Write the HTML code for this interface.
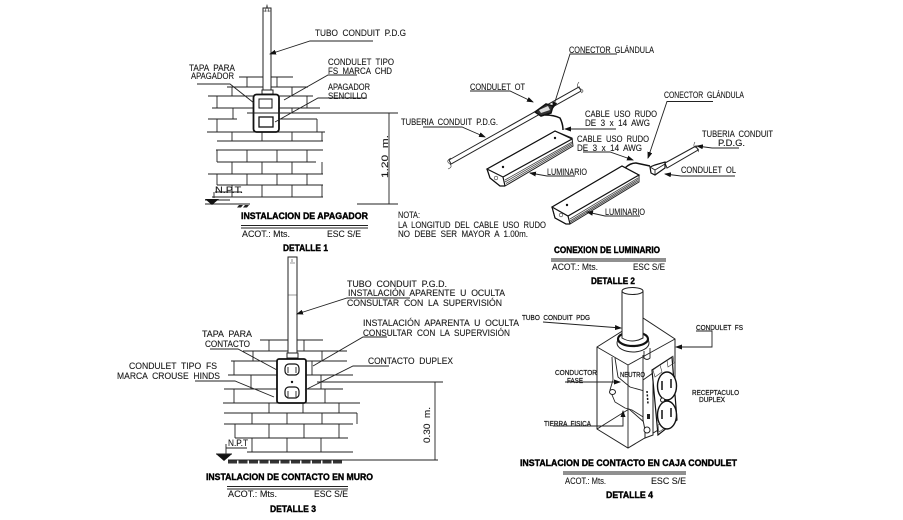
<!DOCTYPE html>
<html><head><meta charset="utf-8"><style>
html,body{margin:0;padding:0;background:#fff}
svg{display:block}
text{font-family:"Liberation Sans",sans-serif;font-size:9px;fill:#1a1a1a;stroke:#1a1a1a;stroke-width:.12;white-space:pre}
.b{font-weight:bold;fill:#000;stroke:#000;stroke-width:.4;font-size:9.500px}
.s{font-size:7.500px;stroke-width:.25}
.l{fill:none;stroke:#222;stroke-width:.9}
.t{fill:none;stroke:#333;stroke-width:.6}
.k{fill:none;stroke:#111;stroke-width:1.5}
.w{fill:#fff;stroke:#222;stroke-width:1}
</style></head><body>
<svg width="903" height="520" viewBox="0 0 903 520" xmlns="http://www.w3.org/2000/svg">
<defs><marker id="a" markerWidth="7" markerHeight="5" refX="6" refY="2.5" orient="auto" markerUnits="userSpaceOnUse"><path d="M0 0L7 2.500L0 5z" fill="#111"/></marker></defs>

<!-- DETALLE 1 bricks -->
<path class="l" d="M239 77H293M227 87H308M208 96H313M212 108H320M208 119H237M278 119H317M207 132H325M217 141H323M216 150H323M217 162H316M208 174H323M217 185H323M212 197H323
M247 77V87M277 77V87M232 87V96M292 87V96M217 96V108M307 96V108M233 108V119M292 108V113M217 119V132M317 119V132M232 132V141M262 132V141M292 132V141M322 132V141M217 150V162M247 150V162M277 150V162M307 150V162M232 162V174M262 162V174M292 162V174M322 162V174M217 174V185M247 174V185M277 174V185M307 174V185M232 185V197M262 185V197M292 185V197M322 185V197"/>
<rect class="w" x="263" y="8" width="8" height="82"/>
<path class="t" d="M265 12L267 5L269 12M263 11H271"/>
<rect class="w" x="262" y="90" width="11" height="4"/>
<rect x="253.500" y="94.500" width="25.500" height="37.500" rx="3" fill="#fff" stroke="#111" stroke-width="1.800"/>
<rect x="259" y="99" width="13" height="9" fill="none" stroke="#111"/>
<rect x="259" y="117" width="14" height="10" fill="none" stroke="#111" stroke-width="1.300"/>
<path class="l" d="M247 113H398M357 204H398M389 113V204M205 204H250M205 200H230"/>
<path d="M205 199H219L212 205z" fill="#111"/>
<path d="M239 205h4l-2 2.500h-4zM245 205h4l-2 2.500h-4z" fill="#222"/>
<path class="l" d="M215 192H242M214 192V198"/>
<text x="215" y="193" textLength="28" lengthAdjust="spacingAndGlyphs">N.P.T.</text>
<text transform="translate(388,178) rotate(-90)" textLength="43" lengthAdjust="spacingAndGlyphs" style="font-size:9.500px">1.20  m.</text>

<path class="l" d="M373 41H310L270 54" marker-end="url(#a)"/>
<path class="l" d="M357 75H328L284 100"/>
<path class="l" d="M367 98H318L275 122"/>
<path class="l" d="M197 84H230L254 103"/>
<text x="315" y="36" textLength="91" lengthAdjust="spacingAndGlyphs">TUBO  CONDUIT  P.D.G</text>
<text x="328" y="65" textLength="66" lengthAdjust="spacingAndGlyphs">CONDULET  TIPO</text>
<text x="328" y="74" textLength="64" lengthAdjust="spacingAndGlyphs">FS  MARCA  CHD</text>
<text x="328" y="90" textLength="42" lengthAdjust="spacingAndGlyphs">APAGADOR</text>
<text x="328" y="99" textLength="39" lengthAdjust="spacingAndGlyphs">SENCILLO</text>
<text x="189" y="71" textLength="46" lengthAdjust="spacingAndGlyphs">TAPA  PARA</text>
<text x="191" y="79" textLength="43" lengthAdjust="spacingAndGlyphs">APAGADOR</text>
<text class="b" x="241" y="219" textLength="127" lengthAdjust="spacingAndGlyphs">INSTALACION DE APAGADOR</text>
<path class="l" d="M241 225.500H368M241 228H368"/>
<text x="242" y="237" textLength="48" lengthAdjust="spacingAndGlyphs">ACOT.: Mts.</text>
<text x="327" y="237" textLength="34" lengthAdjust="spacingAndGlyphs">ESC S/E</text>
<text class="b" x="283" y="251" textLength="45" lengthAdjust="spacingAndGlyphs">DETALLE 1</text>

<!-- DETALLE 2 -->
<path class="w" d="M449 160L579 87L581 91L451 164z"/>
<path class="t" d="M451 158Q445 161 450 164Q453 167 448 169M579 82Q575 87 581 89Q585 91 581 93"/>
<path d="M535 112L546 104L553 106L551 113L541 116z" fill="#333" stroke="#111" stroke-width="1.500"/>
<path d="M539 110L548 106L550 110L541 113z" fill="#ddd"/>
<path class="k" d="M545 115Q554 115 560 118Q563 124 563 130" stroke-width="2"/>
<!-- luminaire 1 -->
<path class="w" d="M487 169L555 131L572 138L573 146L505 186L500 186L490 178z"/>
<path d="M487 169L555 131L572 139L503 177zM503 177L505 186M487 169L490 178L500 186L505 186" fill="none" stroke="#111" stroke-width="1.200"/>
<path d="M505 180L572 142M505 182L572 143.500M506 183.500L572 145" stroke="#444" stroke-width=".8" fill="none"/>
<circle cx="496" cy="178" r="1.800" class="t"/><circle cx="503" cy="167" r="1.200" fill="#111"/><circle cx="555" cy="138" r="1.200" fill="#111"/>
<!-- luminaire 2 -->
<path class="w" d="M552 207L622 166L639 175V182L570 224L566 224L555 218z"/>
<path d="M552 207L622 166L639 175L568 216zM568 216L570 224M552 207L555 218L566 224L570 224" fill="none" stroke="#111" stroke-width="1.200"/>
<path d="M570 219L638 178M570 221L638 179.500M570 222.500L638 181" stroke="#444" stroke-width=".8" fill="none"/>
<circle cx="561" cy="215" r="1.800" class="t"/><circle cx="567" cy="205" r="1.200" fill="#111"/>
<!-- OL -->
<path class="k" d="M625 168Q630 163 636 163L650 166" stroke-width="2"/>
<path class="w" d="M665 163L696 146L698 150L667 168z"/>
<path class="t" d="M695 142Q692 147 697 148Q700 150 698 152"/>
<path d="M650 167L655 165L665 162V168L655 175L651 173z" fill="#fff" stroke="#111" stroke-width="1.200"/>
<path class="l" d="M650 167L655 170V175M655 170L665 164"/>
<path class="l" d="M617 54H570L553 108" marker-end="url(#a)"/>
<path class="l" d="M470 91H510L533 102" marker-end="url(#a)"/>
<path class="l" d="M423 127H462L485 137" marker-end="url(#a)"/>
<path class="l" d="M616 129H565" marker-end="url(#a)"/>
<path class="l" d="M583 152H610L633 160" marker-end="url(#a)"/>
<path class="l" d="M713 101.500H667L648 158" marker-end="url(#a)"/>
<path class="l" d="M575 176H547L530 173" marker-end="url(#a)"/>
<path class="l" d="M640 216H605L587 212" marker-end="url(#a)"/>
<path class="l" d="M739 148H712L697 146" marker-end="url(#a)"/>
<path class="l" d="M735 176H681L665 174" marker-end="url(#a)"/>
<text x="569" y="53" textLength="85" lengthAdjust="spacingAndGlyphs">CONECTOR  GLÁNDULA</text>
<text x="470" y="90" textLength="55" lengthAdjust="spacingAndGlyphs">CONDULET  OT</text>
<text x="401" y="125" textLength="97" lengthAdjust="spacingAndGlyphs">TUBERIA  CONDUIT  P.D.G.</text>
<text x="585" y="117" textLength="72" lengthAdjust="spacingAndGlyphs">CABLE  USO  RUDO</text>
<text x="585" y="126" textLength="65" lengthAdjust="spacingAndGlyphs">DE  3  x  14  AWG</text>
<text x="577" y="142" textLength="72" lengthAdjust="spacingAndGlyphs">CABLE  USO  RUDO</text>
<text x="577" y="151" textLength="65" lengthAdjust="spacingAndGlyphs">DE  3  x  14  AWG</text>
<text x="664" y="98" textLength="80" lengthAdjust="spacingAndGlyphs">CONECTOR  GLÁNDULA</text>
<text x="702" y="137" textLength="71" lengthAdjust="spacingAndGlyphs">TUBERIA  CONDUIT</text>
<text x="718" y="146" textLength="27" lengthAdjust="spacingAndGlyphs">P.D.G.</text>
<text x="681" y="173" textLength="55" lengthAdjust="spacingAndGlyphs">CONDULET  OL</text>
<text x="547" y="175" textLength="40" lengthAdjust="spacingAndGlyphs">LUMINARIO</text>
<text x="605" y="215" textLength="40" lengthAdjust="spacingAndGlyphs">LUMINARIO</text>
<text x="398" y="218" textLength="22" lengthAdjust="spacingAndGlyphs">NOTA:</text>
<text x="398" y="228" textLength="148" lengthAdjust="spacingAndGlyphs">LA  LONGITUD  DEL  CABLE  USO  RUDO</text>
<text x="398" y="237" textLength="130" lengthAdjust="spacingAndGlyphs">NO  DEBE  SER  MAYOR  A  1.00m.</text>
<text class="b" x="554" y="253" textLength="106" lengthAdjust="spacingAndGlyphs">CONEXION DE LUMINARIO</text>
<path class="l" d="M551 259H666M551 261H666"/>
<text x="552" y="270" textLength="46" lengthAdjust="spacingAndGlyphs">ACOT.: Mts.</text>
<text x="633" y="270" textLength="32" lengthAdjust="spacingAndGlyphs">ESC S/E</text>
<text class="b" x="591" y="284" textLength="44" lengthAdjust="spacingAndGlyphs">DETALLE 2</text>

<!-- DETALLE 3 bricks -->
<path class="l" d="M260 340H323M243 351H347M231 361H347M228 375H353M224 389H343M223 403H360M224 413H357M224 424H353M235 438H348M247 452H353M228 460H438
M269 340V351M304 340V351M253 351V361M322 351V361M234 361V375M312 361V375M251 375V389M321 375V389M234 389V403M325 389V403M269 403V413M303 403V413M339 403V413M252 413V424M287 413V424M322 413V424M357 413V424M235 424V438M269 424V438M304 424V438M339 424V438M252 438V452M287 438V452M321 438V452M317 382H443M435 382V460M357 460H438"/>
<rect class="w" x="288" y="257" width="9" height="96"/>
<path class="t" d="M292 259V262M290 263H295M288 295H297"/>
<rect class="w" x="287" y="353" width="11" height="5"/>
<rect x="277" y="359" width="29" height="44" rx="2" fill="#fff" stroke="#111" stroke-width="1.800"/>
<rect x="285" y="364" width="14" height="11" rx="4" fill="none" stroke="#111" stroke-width="1.200"/>
<rect x="285" y="387" width="14" height="11" rx="4" fill="none" stroke="#111" stroke-width="1.200"/>
<path class="l" d="M288 367V373M296 367V373M288 391V397M296 391V397"/>
<circle cx="292" cy="382" r="1.200" fill="#111"/>
<path d="M216 454H232L224 461z" fill="#111"/>
<path class="l" d="M216 454H232M226 444V455M226 448H247"/>
<path d="M228 462H343" stroke="#333" stroke-width="3" stroke-dasharray="9 1.500" fill="none"/>
<text x="228" y="446" textLength="20" lengthAdjust="spacingAndGlyphs">N.P.T</text>
<text transform="translate(430,443) rotate(-90)" textLength="36" lengthAdjust="spacingAndGlyphs" style="font-size:9.500px">0.30  m.</text>
<path class="l" d="M410 298H347L297 314" marker-end="url(#a)"/>
<path class="l" d="M387 337H363L313 366"/>
<path class="l" d="M389 366H353L305 390"/>
<path class="l" d="M210 349H238L277 370"/>
<path class="l" d="M195 381H235L274 397"/>
<text x="347" y="287" textLength="100" lengthAdjust="spacingAndGlyphs">TUBO  CONDUIT  P.G.D.</text>
<text x="348" y="296" textLength="157" lengthAdjust="spacingAndGlyphs">INSTALACIÓN  APARENTE  U  OCULTA</text>
<text x="347" y="306" textLength="155" lengthAdjust="spacingAndGlyphs">CONSULTAR  CON  LA  SUPERVISIÓN</text>
<text x="363" y="326" textLength="156" lengthAdjust="spacingAndGlyphs">INSTALACIÓN  APARENTA  U  OCULTA</text>
<text x="363" y="336" textLength="147" lengthAdjust="spacingAndGlyphs">CONSULTAR  CON  LA  SUPERVISIÓN</text>
<text x="368" y="364" textLength="85" lengthAdjust="spacingAndGlyphs">CONTACTO  DUPLEX</text>
<text x="202" y="337" textLength="50" lengthAdjust="spacingAndGlyphs">TAPA  PARA</text>
<text x="205" y="347" textLength="45" lengthAdjust="spacingAndGlyphs">CONTACTO</text>
<text x="129" y="369" textLength="88" lengthAdjust="spacingAndGlyphs">CONDULET  TIPO  FS</text>
<text x="117" y="379" textLength="103" lengthAdjust="spacingAndGlyphs">MARCA  CROUSE  HINDS</text>
<text class="b" x="206" y="480" textLength="167" lengthAdjust="spacingAndGlyphs">INSTALACION DE CONTACTO EN MURO</text>
<path class="l" d="M227 486.500H348M227 489H348"/>
<text x="228" y="497" textLength="49" lengthAdjust="spacingAndGlyphs">ACOT.: Mts.</text>
<text x="314" y="497" textLength="34" lengthAdjust="spacingAndGlyphs">ESC S/E</text>
<text class="b" x="270" y="512" textLength="46" lengthAdjust="spacingAndGlyphs">DETALLE 3</text>

<!-- DETALLE 4 -->
<path class="w" d="M597 347L643 318L675 339V420L628 448L597 429z"/>
<path class="l" d="M597 347L628 365L675 339M628 365V448M597 429L629 409L645 423M643 355V412"/>
<ellipse cx="633" cy="343" rx="16" ry="9" fill="#fff" stroke="#222"/>
<ellipse cx="633" cy="339" rx="15" ry="7" fill="#fff" stroke="#111" stroke-width="2.200"/>
<path class="w" d="M622 291V338Q632 344 643 338V291z"/>
<ellipse cx="632.500" cy="291" rx="10.500" ry="3.500" fill="#fff" stroke="#222"/>
<path class="l" d="M612 357L613 380L610 390L615 402L625 408L632 410L648 420M615 358L618 377L630 387L648 392"/>
<ellipse cx="612.500" cy="392" rx="3" ry="2.500" class="w"/>
<path d="M643 380L653 373V435L645 438V430L643 420z" fill="#fff" stroke="#222"/>
<path class="k" d="M647 391L648 404" stroke-dasharray="2 1.500" stroke-width="2"/>
<path d="M647 414h3v5h-3z" fill="#222"/>
<path d="M652 370L672 357L677 420L658 435z" fill="#fff" stroke="#111" stroke-width="1.200"/>
<path class="t" d="M653 370L660 365L662 372L655 377zM667 360L673 356L674 363L668 367zM658 425L676 414L677 420L659 432z"/>
<ellipse cx="667" cy="386" rx="9.500" ry="14" fill="#fff" stroke="#111" stroke-width="1.400"/>
<ellipse cx="667" cy="415" rx="9.500" ry="14" fill="#fff" stroke="#111" stroke-width="1.400"/>
<path class="k" d="M662 381V390M671 379V388M662 410V419M671 408V417" stroke-width="1.300"/>
<circle cx="662.500" cy="400" r="2" class="w"/>
<circle cx="647" cy="430" r="3" class="w"/>
<path d="M644 351v7q3 3 6 0v-10" class="l"/>
<path class="l" d="M543 322L621 328" marker-end="url(#a)"/>
<path class="l" d="M696 331H712V347H676" marker-end="url(#a)"/>
<path class="l" d="M565 382H620" marker-end="url(#a)"/>
<path class="l" d="M553 426H623V411" marker-end="url(#a)"/>
<text class="s" x="522" y="320" textLength="68" lengthAdjust="spacingAndGlyphs">TUBO  CONDUIT  PDG</text>
<text class="s" x="696" y="330" textLength="47" lengthAdjust="spacingAndGlyphs">CONDULET  FS</text>
<text class="s" x="555" y="375" textLength="42" lengthAdjust="spacingAndGlyphs">CONDUCTOR</text>
<text class="s" x="567" y="383" textLength="16" lengthAdjust="spacingAndGlyphs">FASE</text>
<text class="s" x="620" y="377" textLength="25" lengthAdjust="spacingAndGlyphs">NEUTRO</text>
<text class="s" x="692" y="395" textLength="47" lengthAdjust="spacingAndGlyphs">RECEPTACULO</text>
<text class="s" x="699" y="402" textLength="26" lengthAdjust="spacingAndGlyphs">DUPLEX</text>
<text class="s" x="544" y="426" textLength="47" lengthAdjust="spacingAndGlyphs">TIERRA  FISICA</text>
<text class="b" x="520" y="466" textLength="217" lengthAdjust="spacingAndGlyphs">INSTALACION DE CONTACTO EN CAJA CONDULET</text>
<path class="l" d="M563 472H686M563 474H686"/>
<text x="565" y="484" textLength="41" lengthAdjust="spacingAndGlyphs">ACOT.: Mts.</text>
<text x="651" y="484" textLength="35" lengthAdjust="spacingAndGlyphs">ESC S/E</text>
<text class="b" x="606" y="498" textLength="47" lengthAdjust="spacingAndGlyphs">DETALLE 4</text>
</svg>
</body></html>
